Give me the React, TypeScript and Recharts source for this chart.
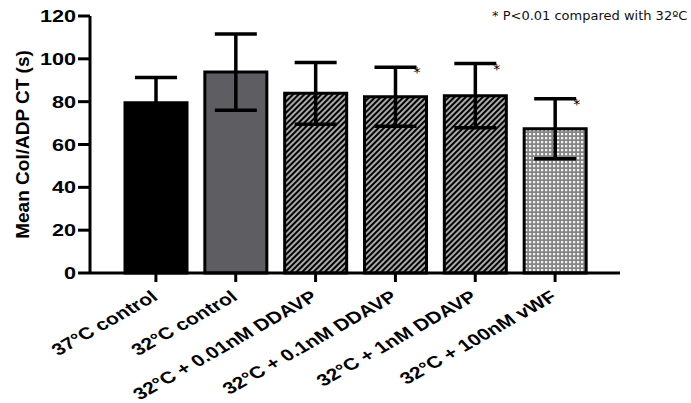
import { BarChart, Bar, XAxis, YAxis, ErrorBar, Cell, LabelList, Label } from "recharts";

const groups = [
  "37°C control",
  "32°C control",
  "32°C + 0.01nM DDAVP",
  "32°C + 0.1nM DDAVP",
  "32°C + 1nM DDAVP",
  "32°C + 100nM vWF",
];
const means = [79.5, 93.8, 83.9, 82.3, 82.8, 67.4];
const sds = [11.8, 17.8, 14.4, 13.8, 15.0, 14.0];
const significant = [false, false, false, true, true, true];
const fills = ["#000000", "#5e5e62", "url(#hatch)", "url(#hatch)", "url(#hatch)", "url(#checks)"];
const yTicks = [0, 20, 40, 60, 80, 100, 120];

const data = groups.map((g, i) => ({ name: g, mean: means[i], sd: sds[i], sig: significant[i] }));

const font = "Arial, 'Liberation Sans', sans-serif";

// the source figure is stretched sideways, so the tick text is widened a bit
function XTick(props: any) {
  const { x, y, payload } = props;
  return (
    <g transform={`translate(${x + 3},${y + 15}) scale(1.28,1) rotate(-36)`}>
      <text x={0} y={0} textAnchor="end" fontFamily={font} fontWeight="bold" fontSize={16.5} fill="#000">
        {payload.value}
      </text>
    </g>
  );
}

function YTick(props: any) {
  const { x, y, payload } = props;
  return (
    <g transform={`translate(${x},${y}) scale(1.35,1)`}>
      <text x={0} y={0} dy={6} textAnchor="end" fontFamily={font} fontWeight="bold" fontSize={16} fill="#000">
        {payload.value}
      </text>
    </g>
  );
}

function Star(props: any) {
  const { x, y, width, height, index, value } = props;
  if (!data[index].sig) return null;
  const errTop = y - (data[index].sd * height) / value;
  return (
    <text x={x + width / 2 + 18} y={errTop + 10} fontSize={14} fontFamily="'DejaVu Sans', sans-serif" fill="#000">
      *
    </text>
  );
}

export default function App() {
  return (
    <div style={{ position: "absolute", left: 0, top: 0, background: "#fff" }}>
      <BarChart width={691} height={403} data={data} margin={{ top: 16, right: 71, bottom: 0, left: 0 }}>
        <defs>
          <pattern id="hatch" patternUnits="userSpaceOnUse" width="4" height="4" patternTransform="rotate(45)">
            <rect width="4" height="4" fill="#f2f2f2" />
            <line x1="2" y1="0" x2="2" y2="4" stroke="#000" strokeWidth="2.6" />
          </pattern>
          <pattern id="checks" patternUnits="userSpaceOnUse" width="4" height="4">
            <rect width="4" height="4" fill="#858585" />
            <rect x="1" y="1" width="2.2" height="2.2" fill="#f2f2f2" />
          </pattern>
        </defs>
        <XAxis
          dataKey="name"
          height={130}
          interval={0}
          padding={{ left: 26, right: 25 }}
          tick={<XTick />}
          tickSize={9}
          stroke="#000"
          strokeWidth={3}
          tickLine={{ stroke: "#000", strokeWidth: 3 }}
        />
        <YAxis
          width={90}
          domain={[0, 120]}
          ticks={yTicks}
          interval={0}
          tickSize={12}
          stroke="#000"
          strokeWidth={3}
          tickLine={{ stroke: "#000", strokeWidth: 3 }}
          tick={<YTick />}
        >
          <Label
            value="Mean Col/ADP CT (s)"
            angle={-90}
            position="center"
            dx={-23}
            style={{ fontFamily: font, fontWeight: "bold", fontSize: 19, fill: "#000" }}
          />
        </YAxis>
        <Bar dataKey="mean" barSize={62} stroke="#000" strokeWidth={3} isAnimationActive={false}>
          {data.map((d, i) => (
            <Cell key={d.name} fill={fills[i]} />
          ))}
          <ErrorBar dataKey="sd" width={21} stroke="#000" strokeWidth={3.5} direction="y" isAnimationActive={false} />
          <LabelList dataKey="mean" content={<Star />} />
        </Bar>
        <text x={492} y={20} fontSize={13} fontFamily="'DejaVu Sans', sans-serif" fill="#111">
          * P{"<"}0.01 compared with 32ºC
        </text>
      </BarChart>
    </div>
  );
}
